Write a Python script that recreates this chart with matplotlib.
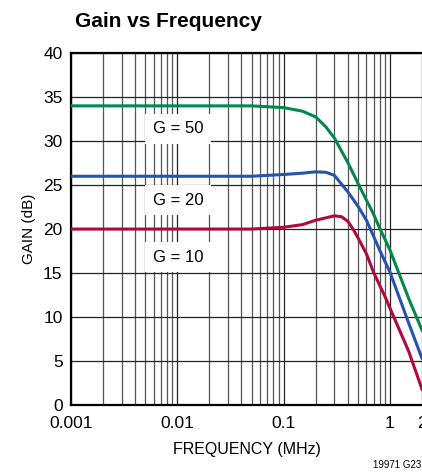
import matplotlib
matplotlib.use("Agg")
import matplotlib.pyplot as plt
from matplotlib.ticker import FixedLocator, NullFormatter

plt.rcParams['font.family'] = ['Liberation Sans', 'DejaVu Sans']

freq_g50 = [0.001, 0.01, 0.05, 0.1, 0.15, 0.2, 0.25, 0.3, 0.4, 0.5, 0.6, 0.7, 0.8, 0.9, 1.0, 1.5, 2.0]
gain_g50 = [34.0, 34.0, 34.0, 33.8, 33.4, 32.75, 31.6, 30.35, 27.6, 25.2, 23.3, 21.7, 20.1, 18.8, 17.6, 12.1, 8.5]

freq_g20 = [0.001, 0.01, 0.05, 0.1, 0.15, 0.2, 0.25, 0.3, 0.4, 0.5, 0.6, 0.7, 0.8, 1.0, 1.5, 2.0]
gain_g20 = [26.0, 26.0, 26.0, 26.2, 26.35, 26.5, 26.45, 26.1, 24.25, 22.6, 21.0, 19.2, 17.6, 15.1, 9.3, 5.3]

freq_g10 = [0.001, 0.01, 0.05, 0.1, 0.15, 0.2, 0.3, 0.35, 0.4, 0.45, 0.5, 0.6, 0.7, 0.8, 0.9, 1.0, 1.5, 2.0]
gain_g10 = [20.0, 20.0, 20.0, 20.2, 20.5, 21.0, 21.5, 21.4, 20.9, 20.0, 19.0, 17.2, 15.1, 13.6, 12.3, 11.0, 6.1, 1.8]

labels = ["G = 50", "G = 20", "G = 10"]
label_y = [31.4, 23.3, 16.8]

xticks = [0.001, 0.01, 0.1, 1, 2]
xtick_labels = ["0.001", "0.01", "0.1", "1", "2"]
yticks = [0, 5, 10, 15, 20, 25, 30, 35, 40]

fig = plt.figure(figsize=(4.22, 4.74), dpi=100)
ax = fig.add_axes([0.168, 0.1456, 0.832, 0.7424])

ax.plot(freq_g50, gain_g50, color='#00894a', lw=2.2, zorder=4)
ax.plot(freq_g20, gain_g20, color='#2553b0', lw=2.2, zorder=4)
ax.plot(freq_g10, gain_g10, color='#b0093a', lw=2.2, zorder=4)

ax.set_xscale('log')
ax.set_xlim(0.001, 2)
ax.set_ylim(0, 40)
ax.set_xticks(xticks)
ax.set_xticklabels(xtick_labels)
minors = [m * 10.0 ** e for e in range(-3, 1) for m in range(2, 10)]
ax.xaxis.set_minor_locator(FixedLocator([v for v in minors if v < 2]))
ax.xaxis.set_minor_formatter(NullFormatter())
ax.set_yticks(yticks)

ax.grid(True, which='major', color='#222222', lw=0.9)
ax.grid(True, which='minor', axis='x', color='#555555', lw=0.9)
ax.tick_params(which='both', length=0, labelsize=12.5)
ax.tick_params(axis='x', pad=8)
ax.tick_params(axis='y', pad=6)

for sp in ['left', 'bottom', 'top']:
    ax.spines[sp].set_linewidth(1.6)
ax.spines['right'].set_visible(False)

for lab, y in zip(labels, label_y):
    ax.text(0.0102, y, lab, fontsize=12, ha='center', va='center', zorder=3,
            bbox=dict(boxstyle='square,pad=0.45', fc='white', ec='none'))

ax.set_xlabel("FREQUENCY (MHz)", fontsize=11.5, labelpad=8)
ax.set_ylabel("GAIN (dB)", fontsize=11, labelpad=5)

fig.text(0.178, 0.955, "Gain vs Frequency", fontsize=15, fontweight='bold', va='center', ha='left')
fig.text(0.998, 0.02, "19971 G23", fontsize=7, ha='right', va='center')

fig.savefig("out.png", dpi=100)
